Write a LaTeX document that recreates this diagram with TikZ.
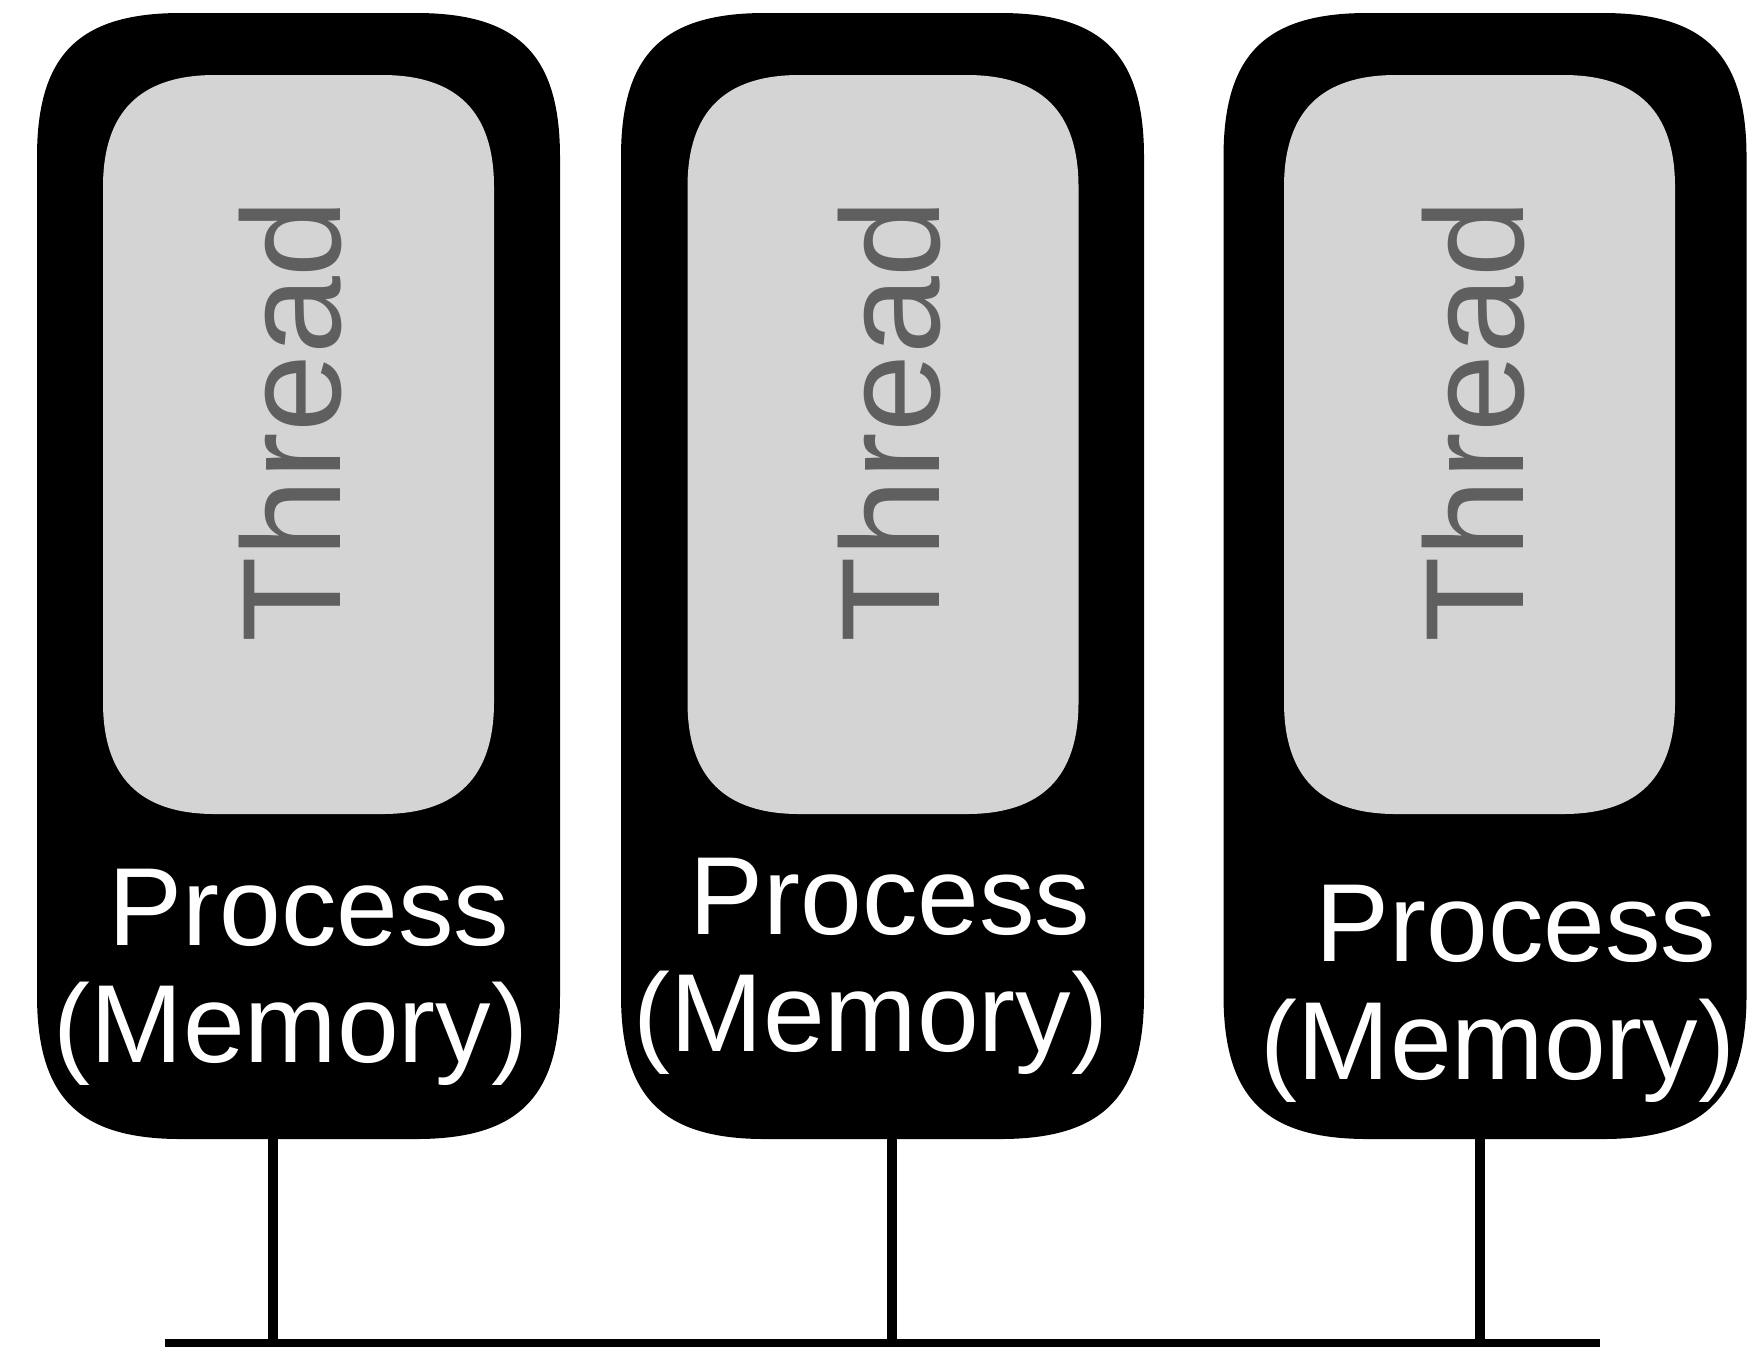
\documentclass[tikz,border=0pt]{standalone}
\usepackage{fontspec}
\setmainfont{Liberation Sans}
\usetikzlibrary{calc}
\definecolor{threadfill}{HTML}{D4D4D4}
\definecolor{threadtext}{HTML}{5F5F5F}
% #1 node name, #2 corner extent, #3 handle factor, #4 path options
\newcommand\sqshape[4]{%
  \path[#4] let \p1=(#1.north west), \p2=(#1.south east) in
   (\x1,\y1-#2) .. controls (\x1,\y1-#3*#2) and (\x1+#3*#2,\y1) .. (\x1+#2,\y1)
   -- (\x2-#2,\y1) .. controls (\x2-#3*#2,\y1) and (\x2,\y1-#3*#2) .. (\x2,\y1-#2)
   -- (\x2,\y2+#2) .. controls (\x2,\y2+#3*#2) and (\x2-#3*#2,\y2) .. (\x2-#2,\y2)
   -- (\x1+#2,\y2) .. controls (\x1+#3*#2,\y2) and (\x1,\y2+#3*#2) .. (\x1,\y2+#2) -- cycle;}
\begin{document}
\begin{tikzpicture}[x=0.5pt,y=-0.5pt,
  procbox/.style={rectangle, inner sep=0, outer sep=0, minimum width=261.5pt, minimum height=563pt},
  threadbox/.style={rectangle, inner sep=0, outer sep=0, minimum width=195.5pt, minimum height=369.5pt},
  threadlabel/.style={rotate=90, text=threadtext, font=\fontsize{70pt}{80pt}\selectfont, inner sep=0},
  proclabel/.style={text=white, anchor=base, font=\fontsize{55.5pt}{60pt}\selectfont, inner sep=0},
  link/.style={line width=5pt}]
\useasboundingbox (0,0) rectangle (1748,1346);
% process boxes
\node[procbox] (p1) at (298.5,576) {};
\node[procbox] (p2) at (882.5,576) {};
\node[procbox] (p3) at (1485,576) {};
\node[threadbox] (t1) at (298.5,444.5) {};
\node[threadbox] (t2) at (883,444.5) {};
\node[threadbox] (t3) at (1479.5,444.5) {};
\sqshape{p1}{72pt}{0.29}{fill=black}
\sqshape{p2}{72pt}{0.29}{fill=black}
\sqshape{p3}{72pt}{0.29}{fill=black}
\sqshape{t1}{56pt}{0.33}{fill=threadfill}
\sqshape{t2}{56pt}{0.33}{fill=threadfill}
\sqshape{t3}{56pt}{0.33}{fill=threadfill}
% labels
\node[threadlabel] (tl1) at (290,421) {Thread};
\node[threadlabel] (tl2) at (889,421) {Thread};
\node[threadlabel] (tl3) at (1473,421) {Thread};
\node[proclabel] (pa1) at (309,945) {Process};
\node[proclabel] (pb1) at (291,1062) {(Memory)};
\node[proclabel] (pa2) at (890,934) {Process};
\node[proclabel] (pb2) at (871,1051) {(Memory)};
\node[proclabel] (pa3) at (1516,961) {Process};
\node[proclabel] (pb3) at (1498,1079) {(Memory)};
% bus
\coordinate (busL) at (165,1344);
\coordinate (busR) at (1600,1344);
\coordinate (b1) at (273,1344);
\coordinate (b2) at (892,1344);
\coordinate (b3) at (1480,1344);
\draw[link] (busL) -- (busR);
\draw[link] (b1 |- p1.south) -- (b1);
\draw[link] (b2 |- p2.south) -- (b2);
\draw[link] (b3 |- p3.south) -- (b3);
\end{tikzpicture}
\end{document}
